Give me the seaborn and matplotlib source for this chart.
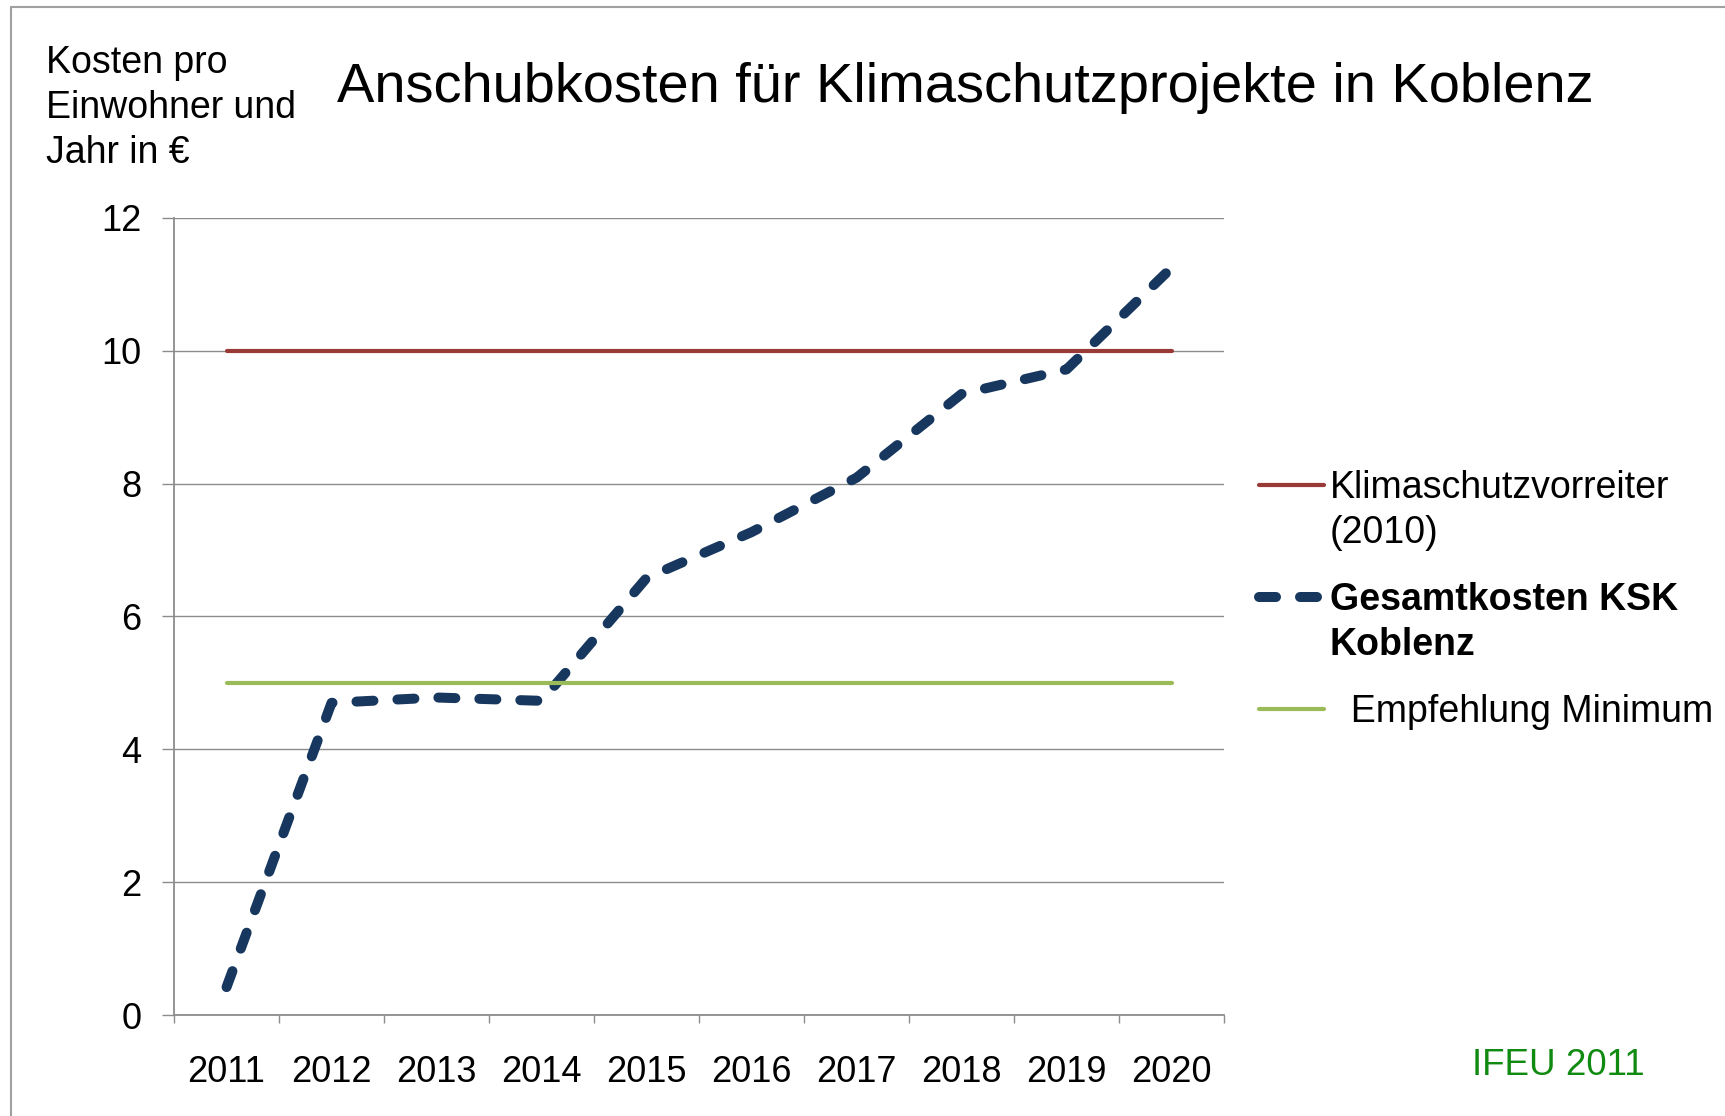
import numpy as np
import pandas as pd
import matplotlib.pyplot as plt
import seaborn as sns
from matplotlib.lines import Line2D
from matplotlib.legend_handler import HandlerLine2D

sns.set_theme(style='white')
plt.rcParams['font.family'] = ['Liberation Sans', 'DejaVu Sans']
plt.rcParams['text.color'] = 'black'

years = [2011, 2012, 2013, 2014, 2015, 2016, 2017, 2018, 2019, 2020]
vorreiter = [10, 10, 10, 10, 10, 10, 10, 10, 10, 10]
gesamt = [0.42, 4.70, 4.78, 4.73, 6.58, 7.27, 8.09, 9.35, 9.72, 11.25]
minimum = [5, 5, 5, 5, 5, 5, 5, 5, 5, 5]
yticks = [0, 2, 4, 6, 8, 10, 12]

labels = ['Klimaschutzvorreiter\n(2010)', 'Gesamtkosten KSK\nKoblenz', '  Empfehlung Minimum']

df = pd.DataFrame({'year': years, 'vorreiter': vorreiter,
                   'gesamt': gesamt, 'minimum': minimum})

red = '#993A37'
navy = '#17375E'
green = '#9BBB59'
grey = '#8C8C8C'


# legend handle aligned with the first line of a two line label
class FirstLineHandler(HandlerLine2D):
    def __init__(self, shift=0.0, **kw):
        super().__init__(**kw)
        self.shift = shift

    def create_artists(self, legend, orig_handle, xdescent, ydescent,
                       width, height, fontsize, trans):
        arts = super().create_artists(legend, orig_handle, xdescent, ydescent,
                                      width, height, fontsize, trans)
        for a in arts:
            a.set_ydata(np.asarray(a.get_ydata()) + self.shift * fontsize)
        return arts


fig = plt.figure(figsize=(17.25, 11.16), dpi=100)
ax = fig.add_axes([0.1009, 0.0905, 0.6087, 0.7142])

sns.lineplot(data=df, x='year', y='vorreiter', color=red, lw=3,
             solid_capstyle='round', estimator=None, ax=ax, label=labels[0])
sns.lineplot(data=df, x='year', y='gesamt', color=navy, lw=7.2,
             dashes=(1.7, 2.4), dash_capstyle='round', estimator=None,
             ax=ax, label=labels[1])
sns.lineplot(data=df, x='year', y='minimum', color=green, lw=3,
             solid_capstyle='round', estimator=None, ax=ax, label=labels[2])

ax.set_xlim(years[0] - 0.5, years[-1] + 0.5)
ax.set_ylim(0, 12)
ax.set_yticks(yticks)
ax.set_xticks(years)
ax.set_xticks([y - 0.5 for y in years] + [years[-1] + 0.5], minor=True)
ax.tick_params(axis='y', which='major', length=8.6, width=1, color=grey,
               direction='out', left=True, pad=15, labelsize=26, labelcolor='black')
ax.tick_params(axis='x', which='major', length=0, pad=29, labelsize=26,
               labelcolor='black')
ax.tick_params(axis='x', which='minor', length=6, width=1, color=grey,
               direction='out', bottom=True)
ax.set_xlabel(None)
ax.set_ylabel(None)
ax.grid(axis='y', color=grey, lw=1)
ax.set_axisbelow(True)
for s in ['top', 'right']:
    ax.spines[s].set_visible(False)
for s in ['left', 'bottom']:
    ax.spines[s].set_color(grey)
    ax.spines[s].set_linewidth(1.3)

lines = ax.get_lines()
handles = lines[:3]
leg = ax.legend(handles=handles, labels=labels, loc='upper left',
                bbox_to_anchor=(0.7299, 0.579), bbox_transform=fig.transFigure,
                frameon=False, fontsize=27, borderpad=0, borderaxespad=0,
                handlelength=1.73, handletextpad=0.16, labelspacing=0.82,
                handler_map={handles[0]: FirstLineHandler(0.7),
                             handles[1]: FirstLineHandler(0.7)})
for t in leg.get_texts():
    t.set_linespacing(1.33)
    t.set_color('black')
leg.get_texts()[1].set_fontweight('bold')

fig.text(0.5594, 0.9089, 'Anschubkosten für Klimaschutzprojekte in Koblenz',
         ha='center', va='baseline', fontsize=40.3, color='black')
fig.text(0.0267, 0.9594, 'Kosten pro\nEinwohner und\nJahr in €',
         ha='left', va='top', fontsize=27, linespacing=1.31, color='black')
fig.text(0.8533, 0.0367, 'IFEU 2011', ha='left', va='baseline',
         fontsize=26.5, color='#108A10')

# outer frame
fig.add_artist(Line2D([0.0064, 1], [0.9937, 0.9937], transform=fig.transFigure,
                      color='#A0A0A0', lw=1.5))
fig.add_artist(Line2D([0.0064, 0.0064], [0, 0.9937], transform=fig.transFigure,
                      color='#A0A0A0', lw=1.5))

fig.savefig('out.png', dpi=100)
